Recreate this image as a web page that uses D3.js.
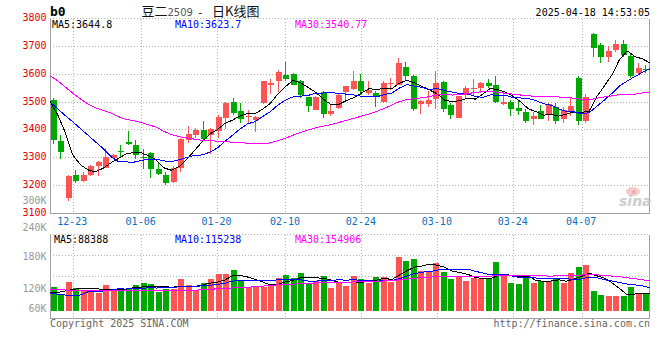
<!DOCTYPE html>
<html>
<head>
<meta charset="utf-8">
<script src="https://cdn.jsdelivr.net/npm/d3@7"></script>
<style>
  body { margin: 0; background: #fff; }
  svg { display: block; }
  text { font-family: "DejaVu Sans Mono", monospace; font-size: 10px; }
</style>
</head>
<body>
<svg id="chart" width="660" height="360"></svg>
<script>
// trading days shown on the chart (80 candles)
const dates = [
  "12-18","12-19","12-20","12-23","12-24","12-25","12-26","12-27","12-30","12-31",
  "01-02","01-03","01-06","01-07","01-08","01-09","01-10","01-13","01-14","01-15",
  "01-16","01-17","01-20","01-21","01-22","01-23","01-24","01-27","02-05","02-06",
  "02-07","02-10","02-11","02-12","02-13","02-14","02-17","02-18","02-19","02-20",
  "02-21","02-24","02-25","02-26","02-27","02-28","03-03","03-04","03-05","03-06",
  "03-07","03-10","03-11","03-12","03-13","03-14","03-17","03-18","03-19","03-20",
  "03-21","03-24","03-25","03-26","03-27","03-28","03-31","04-01","04-02","04-03",
  "04-07","04-08","04-09","04-10","04-11","04-14","04-15","04-16","04-17","04-18"
];

const opens = [
  3506,3360,3154,3240,3217,3240,3270,3264,3298,3323,
  3357,3345,3302,3317,3261,3240,3214,3264,3364,3381,
  3399,3383,3395,3443,3502,3467,3448,3437,3496,3562,
  3577,3596,3602,3577,3518,3470,3536,3457,3479,3535,
  3546,3574,3532,3533,3499,3564,3562,3627,3594,3493,
  3493,3511,3571,3488,3443,3526,3546,3552,3570,3560,
  3493,3502,3479,3463,3440,3467,3452,3481,3440,3467,
  3586,3433,3743,3705,3663,3687,3708,3667,3604,3619
];
const highs = [
  3514,3381,3240,3255,3248,3274,3288,3336,3312,3347,
  3395,3365,3330,3321,3282,3250,3270,3371,3413,3407,
  3433,3407,3452,3502,3514,3496,3470,3449,3576,3582,
  3614,3643,3605,3580,3518,3523,3538,3490,3529,3556,
  3613,3600,3574,3538,3577,3586,3657,3645,3598,3508,
  3538,3613,3574,3496,3523,3556,3583,3571,3583,3592,
  3532,3508,3508,3476,3464,3488,3496,3496,3481,3514,
  3592,3529,3749,3713,3702,3723,3723,3671,3639,3633
];
const lows = [
  3350,3296,3145,3211,3214,3234,3234,3262,3295,3302,
  3345,3294,3258,3229,3238,3202,3211,3250,3354,3371,
  3360,3314,3371,3405,3455,3425,3425,3393,3494,3529,
  3535,3574,3560,3514,3464,3470,3443,3449,3476,3506,
  3542,3526,3526,3481,3496,3544,3560,3576,3467,3457,
  3481,3475,3464,3440,3443,3514,3526,3532,3550,3496,
  3490,3449,3452,3425,3419,3440,3433,3421,3425,3449,
  3417,3425,3663,3639,3645,3681,3660,3588,3600,3604
];
const closes = [
  3363,3321,3235,3217,3240,3270,3285,3302,3310,3321,
  3350,3310,3298,3258,3243,3211,3264,3366,3387,3399,
  3366,3405,3446,3496,3461,3440,3451,3445,3574,3568,
  3607,3582,3562,3524,3487,3520,3457,3467,3526,3556,
  3574,3538,3544,3517,3570,3570,3639,3592,3475,3504,
  3506,3568,3476,3455,3523,3550,3549,3568,3556,3500,
  3502,3476,3467,3433,3449,3440,3493,3433,3470,3485,
  3433,3517,3693,3663,3685,3708,3669,3592,3621,3614
];

const ma5 = [
  3502,3455,3392,3310,3275.2,3256.6,3249.4,3262.8,3281.4,3297.6,
  3313.6,3318.6,3317.8,3307.4,3291.8,3264,3254.8,3268.4,3294.2,3325.4,
  3356.4,3384.6,3400.6,3422.4,3434.8,3449.6,3458.8,3458.6,3474.2,3495.6,
  3529,3555.2,3578.6,3568.6,3552.4,3535,3510,3491,3491.4,3505.2,
  3516,3532.2,3547.6,3545.8,3548.6,3547.8,3568,3577.6,3569.2,3556,
  3543.2,3529,3505.8,3501.8,3505.6,3514.4,3510.6,3529,3549.2,3544.6,
  3535,3520.4,3500.2,3475.6,3465.4,3453,3456.4,3449.6,3457,3464.2,
  3462.8,3467.6,3519.6,3558.2,3598.2,3653.2,3683.6,3663.4,3655,3640.8
];
const ma10 = [
  3500,3476,3452,3429,3405,3381,3357,3333,3305,3286.4,
  3285.1,3284,3290.3,3294.4,3294.7,3288.8,3286.7,3293.1,3300.8,3308.6,
  3310.2,3319.7,3334.5,3358.3,3380.1,3403,3421.7,3429.6,3448.3,3465.2,
  3489.3,3507,3518.6,3521.4,3524,3532,3532.6,3534.8,3530,3528.8,
  3525.5,3521.1,3519.3,3518.6,3526.9,3531.9,3550.1,3562.6,3557.5,3552.3,
  3545.5,3548.5,3541.7,3535.5,3530.8,3528.8,3519.8,3517.4,3525.5,3525.1,
  3524.7,3515.5,3514.6,3512.4,3505,3494,3488.4,3474.9,3466.3,3464.8,
  3457.9,3462,3484.6,3507.6,3531.2,3558,3575.6,3591.5,3606.6,3619.5
];
const ma30 = [
  3594,3577,3554,3532,3511,3493,3479,3470,3461,3448,
  3438,3433,3427,3418,3410,3395,3383,3376,3371,3367,
  3363,3361,3360,3358,3356,3355,3352,3350,3350,3353.4,
  3361.5,3370.2,3381.1,3391.4,3399.6,3407.9,3413.7,3419.2,3426.4,3434.2,
  3441.7,3449.3,3457.5,3466.1,3477,3489,3501.5,3509,3512,3515.4,
  3520.1,3525.5,3526.5,3525.2,3527.2,3530.9,3534.2,3538.3,3537.7,3535.4,
  3531.9,3528.4,3525.2,3522.2,3520.9,3518.2,3519.4,3518.3,3516.4,3514.1,
  3509.4,3508.7,3513.6,3518.5,3522.3,3526.9,3527.9,3527.9,3532.8,3536.5
];

// volume, in thousands of lots
const volumes = [
  120,85,145,115,105,102,90,130,105,110,
  110,130,140,135,97,110,110,160,130,105,
  140,160,185,185,205,155,120,125,120,135,
  165,180,165,190,142,150,175,115,138,125,
  177,160,140,170,170,147,270,250,260,200,
  195,240,197,160,170,150,165,160,165,245,
  175,140,135,175,140,150,150,165,140,190,
  220,230,100,80,75,75,75,120,90,90
];
const volMa5 = [
  93,92,100,107,114,110.4,111.4,108.4,106.4,107.4,
  109,117,119,125,122.4,122.4,118.4,122.4,121.4,123,
  129,139,144,155,175,178,170,158,145,131,
  133,145,153,167,168.4,165.4,164.4,154.4,144,140.6,
  146,143,148,154.4,163.4,157.4,179.4,201.4,219.4,225.4,
  235,229,218.4,198.4,192.4,183.4,168.4,161,162,177,
  182,177,172,174,153,148,150,156,149,159,
  173,189,176,164,141,112,81,85,87,90
];
const volMa10 = [
  88,84,80,80,80,96,98,100,104,110.7,
  109.7,114.2,113.7,115.7,114.9,115.7,117.7,120.7,123.2,122.7,
  125.7,128.7,133.2,138.2,149,153.5,154.5,151,150,153,
  155.5,157.5,155.5,156,149.7,149.2,154.7,153.7,155.5,154.5,
  155.7,153.7,151.2,149.2,152,151.7,161.2,174.7,186.9,194.4,
  196.2,204.2,209.9,208.9,208.9,209.2,198.7,189.7,180.2,184.7,
  182.7,172.7,166.5,168,165,165,163.5,164,161.5,156,
  160.5,169.5,166,156.5,150,142.5,135,130.5,125.5,115.5
];
const volMa30 = [
  107,106,105,104,103,103,102,102,103,104,
  105,105,104,104,103,102,102,102,103,104,
  106,108,111,113,115,117,119,121,124,128.8,
  130.3,133.5,134.1,136.6,137.9,139.5,142.3,141.8,142.9,143.4,
  145.6,146.6,146.6,147.8,150.2,151.5,156.8,159.8,164.1,167.3,
  169.1,171.8,172.2,171.4,170.2,170,171.5,172.7,174.2,177.9,
  178.2,176.9,175.9,175.4,175.3,175.3,174.5,176.1,176.2,178.4,
  179.8,182.1,180.8,177.8,174.6,172.2,165.7,161.4,155.7,152.1
];

const priceTicks = [3100, 3200, 3300, 3400, 3500, 3600, 3700, 3800];
const dateTicks = ["12-23", "01-06", "01-20", "02-10", "02-24", "03-10", "03-24", "04-07"];
const volTicks = [60, 120, 180, 240];
const maLabels = ["MA5:3644.8", "MA10:3623.7", "MA30:3540.77"];
const volMaLabels = ["MA5:88388", "MA10:115238", "MA30:154906"];

const UP = "#ff5454", DOWN = "#00a800";
const MA_COLORS = ["#000000", "#0000ff", "#ff00ff"];
const GRID = "#b4b4b4", FRAME = "#a0a0a0";

const candles = dates.map((d, i) => ({
  date: d, open: opens[i], high: highs[i], low: lows[i], close: closes[i], vol: volumes[i]
}));

const svg = d3.select("#chart");
const left = 50, right = 650;
const main = { top: 18.5, bottom: 213.5 };
const vol = { top: 234.5, bottom: 318.5, base: 311 };
const px = (v) => Math.round(v) + 0.5; // crisp 1px lines

// scales
const x = d3.scaleBand().domain(dates).range([left, right]).paddingInner(0.2).paddingOuter(0.1);
const xp = d3.scalePoint().domain(dates).range([left, right]); // grid + MA lines
const y = d3.scaleLinear().domain([3100, 3800]).range([main.bottom, main.top]);
const yVol = d3.scaleLinear().domain([0, 385]).range([vol.base, 234]);
// sina puts its volume labels unevenly, so the label axis is piecewise
const yVolLabel = d3.scaleLinear().domain(volTicks).range([309, 289, 257.5, 228.5]);

// ---- grid ----
const grid = svg.append("g").attr("stroke", GRID).attr("stroke-dasharray", "1,2").attr("shape-rendering", "crispEdges");
grid.selectAll("line.h")
  .data(priceTicks.filter((t) => t > 3100))
  .join("line")
  .attr("x1", left).attr("x2", right)
  .attr("y1", (d) => px(y(d) - 0.5)).attr("y2", (d) => px(y(d) - 0.5));
grid.selectAll("line.v")
  .data(dateTicks)
  .join("line")
  .attr("x1", (d) => px(xp(d))).attr("x2", (d) => px(xp(d)))
  .attr("y1", main.top).attr("y2", main.bottom);
// volume panel grid: top line, quarters, and the date verticals
grid.selectAll("line.vh")
  .data([0, 0.25, 0.5, 0.75])
  .join("line")
  .attr("x1", left).attr("x2", right)
  .attr("y1", (f) => px(vol.top - 0.5 + f * (vol.bottom - vol.top)))
  .attr("y2", (f) => px(vol.top - 0.5 + f * (vol.bottom - vol.top)));
grid.selectAll("line.vv")
  .data(dateTicks)
  .join("line")
  .attr("x1", (d) => px(xp(d))).attr("x2", (d) => px(xp(d)))
  .attr("y1", vol.top).attr("y2", vol.bottom);

// ---- frames ----
const frame = svg.append("g").attr("stroke", FRAME).attr("shape-rendering", "crispEdges");
[main, vol].forEach((p) => {
  frame.append("line").attr("x1", left + 0.5).attr("x2", left + 0.5).attr("y1", p.top).attr("y2", p.bottom);
  frame.append("line").attr("x1", right - 0.5).attr("x2", right - 0.5).attr("y1", p.top).attr("y2", p.bottom);
  frame.append("line").attr("x1", left).attr("x2", right).attr("y1", p.bottom).attr("y2", p.bottom);
});

// ---- candles ----
const cg = svg.append("g").attr("shape-rendering", "crispEdges");
cg.selectAll("line")
  .data(candles)
  .join("line")
  .attr("x1", (d) => Math.round(x(d.date)) + 2.5)
  .attr("x2", (d) => Math.round(x(d.date)) + 2.5)
  .attr("y1", (d) => Math.round(y(d.high)))
  .attr("y2", (d) => Math.round(y(d.low)))
  .attr("stroke", (d) => (d.close >= d.open ? UP : DOWN));
cg.selectAll("rect")
  .data(candles)
  .join("rect")
  .attr("x", (d) => Math.round(x(d.date)))
  .attr("width", Math.round(x.bandwidth()))
  .attr("y", (d) => Math.round(y(Math.max(d.open, d.close))))
  .attr("height", (d) => Math.max(1, Math.round(y(Math.min(d.open, d.close))) - Math.round(y(Math.max(d.open, d.close)))))
  .attr("fill", (d) => (d.close >= d.open ? UP : DOWN));

// ---- volume bars ----
svg.append("g").attr("shape-rendering", "crispEdges")
  .selectAll("rect")
  .data(candles)
  .join("rect")
  .attr("x", (d) => Math.round(x(d.date)))
  .attr("width", Math.round(x.bandwidth()))
  .attr("y", (d) => Math.round(yVol(d.vol)))
  .attr("height", (d) => vol.base - Math.round(yVol(d.vol)))
  .attr("fill", (d) => (d.close >= d.open ? UP : DOWN));

// ---- moving averages (aliased 1px, like the original gif) ----
const priceLine = d3.line().x((d, i) => xp(dates[i])).y((d) => y(d));
const volLine = d3.line().x((d, i) => xp(dates[i])).y((d) => yVol(d));
[ma5, ma10, ma30].forEach((s, k) => {
  svg.append("path").datum(s).attr("d", priceLine).attr("fill", "none")
    .attr("stroke", MA_COLORS[k]).attr("stroke-width", 1).attr("shape-rendering", "crispEdges");
});
[volMa5, volMa10, volMa30].forEach((s, k) => {
  svg.append("path").datum(s).attr("d", volLine).attr("fill", "none")
    .attr("stroke", MA_COLORS[k]).attr("stroke-width", 1).attr("shape-rendering", "crispEdges");
});

// ---- axes ----
svg.append("g")
  .attr("transform", `translate(${left - 3.5},0)`)
  .call(d3.axisLeft(y).tickValues(priceTicks).tickSize(0).tickPadding(0).tickFormat(d3.format("d")))
  .call((g) => g.select(".domain").remove())
  .call((g) => g.selectAll("text").attr("fill", "#e60000").attr("dy", "0.2em"));

svg.append("g")
  .attr("transform", `translate(${left - 3.5},0)`)
  .call(d3.axisLeft(yVolLabel).tickValues(volTicks).tickSize(0).tickPadding(0).tickFormat((d) => d + "K"))
  .call((g) => g.select(".domain").remove())
  .call((g) => g.selectAll("text").attr("fill", "#999").attr("dy", "0.2em"));

svg.append("g")
  .attr("transform", `translate(0,${main.bottom})`)
  .call(d3.axisBottom(xp).tickValues(dateTicks).tickSize(0).tickPadding(4.5))
  .call((g) => g.select(".domain").remove())
  .call((g) => g.selectAll("text").attr("fill", "#0a6fc2").attr("dx", "-1"));

// stray volume label sina leaves inside the price panel
svg.append("text").attr("x", left - 3.5).attr("y", 204).attr("text-anchor", "end").attr("fill", "#999").text("300K");

// ---- legends ----
const maX = [52, 175, 295];
maLabels.forEach((t, k) => {
  svg.append("text").attr("x", maX[k]).attr("y", 27.5).attr("fill", MA_COLORS[k]).text(t);
});
const volMaX = [54, 175, 295];
volMaLabels.forEach((t, k) => {
  svg.append("text").attr("x", volMaX[k]).attr("y", 242.5).attr("fill", MA_COLORS[k]).text(t);
});

// ---- header ----
svg.append("text").attr("x", 50).attr("y", 15.5).style("font-size", "13px").attr("font-weight", "bold").text("b0");
const title = svg.append("text").attr("y", 15.5).attr("fill", "#111");
title.append("tspan").attr("x", 141.5).style("font-family", "Noto Sans CJK SC").style("font-size", "13px").text("豆二");
title.append("tspan").attr("x", 167.5).style("font-family", "DejaVu Sans").style("font-size", "10px").attr("fill", "#555").text("2509");
title.append("tspan").attr("x", 197).style("font-size", "11px").text("-");
title.append("tspan").attr("x", 212).style("font-family", "Noto Sans CJK SC").style("font-size", "13px").text("日K线图");
svg.append("text").attr("x", 650).attr("y", 15.5).attr("text-anchor", "end").attr("fill", "#000").text("2025-04-18 14:53:05");

// ---- footer ----
svg.append("text").attr("x", 50).attr("y", 326.5).attr("fill", "#666").text("Copyright 2025 SINA.COM");
svg.append("text").attr("x", 650).attr("y", 326.5).attr("text-anchor", "end").attr("fill", "#666").text("http://finance.sina.com.cn");

// sina watermark
const wm = svg.append("g").attr("opacity", 0.75);
wm.append("ellipse").attr("cx", 633).attr("cy", 191.5).attr("rx", 7).attr("ry", 4.5).attr("fill", "#f4b8b8");
wm.append("circle").attr("cx", 634).attr("cy", 192).attr("r", 2).attr("fill", "#d99");
wm.append("text").attr("x", 619).attr("y", 206).style("font-family", "DejaVu Sans").style("font-size", "14px")
  .attr("font-style", "italic").attr("font-weight", "bold").attr("fill", "#bdbdbd").text("sina");
</script>
</body>
</html>
